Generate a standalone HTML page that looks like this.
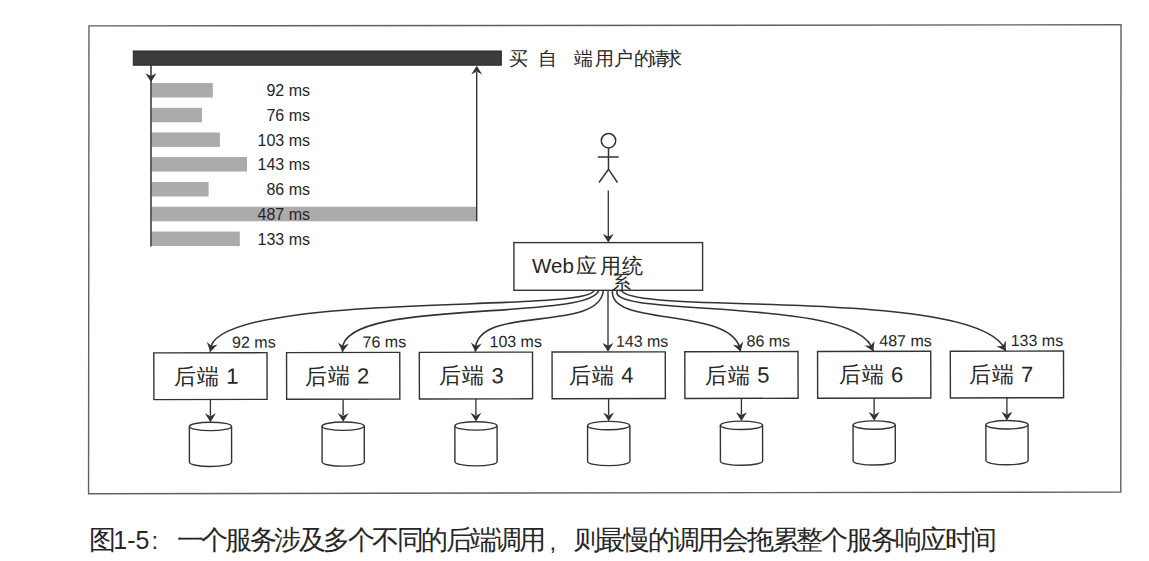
<!DOCTYPE html>
<html><head><meta charset="utf-8"><style>
html,body{margin:0;padding:0;background:#fff;overflow:hidden;}
svg{display:block;}
text{font-family:"Liberation Sans", sans-serif;fill:#262626;}
</style></head><body>
<svg width="1149" height="561" viewBox="0 0 1149 561">
<path d="M88.97 25.9 L1121 24.8 L1120.8 492 L88.55 493.8 Z" fill="none" stroke="#606060" stroke-width="1.4"/>
<rect x="133.3" y="51" width="368" height="14.2" fill="#3d3d3d" stroke="#262626" stroke-width="1"/>
<rect x="151.5" y="83" width="61.3" height="14.5" fill="#ababab"/>
<rect x="151.5" y="107.8" width="50.5" height="14.5" fill="#ababab"/>
<rect x="151.5" y="132.5" width="68.4" height="14.5" fill="#ababab"/>
<rect x="151.5" y="157" width="95.5" height="14.5" fill="#ababab"/>
<rect x="151.5" y="182" width="57.1" height="14.5" fill="#ababab"/>
<rect x="151.5" y="206.8" width="325.0" height="14.5" fill="#ababab"/>
<rect x="151.5" y="231.6" width="88.3" height="14.5" fill="#ababab"/>
<line x1="151" y1="65" x2="151" y2="246.5" stroke="#333333" stroke-width="1.5"/>
<path d="M0 0 L-8.80 -5.50 L-5.90 0 L-8.80 5.50 Z" transform="translate(151.00 82.00) rotate(90.00)" fill="#333333"/>
<line x1="476.7" y1="221.3" x2="476.7" y2="72" stroke="#333333" stroke-width="1.4"/>
<path d="M0 0 L-8.80 -5.50 L-5.90 0 L-8.80 5.50 Z" transform="translate(476.70 65.70) rotate(-90.00)" fill="#333333"/>
<circle cx="608.5" cy="140.7" r="7.2" fill="none" stroke="#333333" stroke-width="1.5"/>
<path d="M608.5 147.9 V169.2 M597.8 157 H618.6 M599 182.5 L608.5 169.2 L617.4 182.5" fill="none" stroke="#333333" stroke-width="1.5"/>
<line x1="608.3" y1="190.6" x2="608.3" y2="238" stroke="#333333" stroke-width="1.3"/>
<path d="M0 0 L-8.80 -5.50 L-5.90 0 L-8.80 5.50 Z" transform="translate(608.30 242.60) rotate(90.00)" fill="#333333"/>
<rect x="513.9" y="242.6" width="188.7" height="47.7" fill="none" stroke="#333333" stroke-width="1.4"/>
<path d="M594.00 290.30 C590.48 313.56 205.33 290.45 210.30 351.80" fill="none" stroke="#333333" stroke-width="1.55"/>
<path d="M0 0 L-8.80 -5.50 L-5.90 0 L-8.80 5.50 Z" transform="translate(210.30 351.80) rotate(102.37)" fill="#333333"/>
<path d="M598.90 290.30 C588.71 322.42 334.18 296.65 342.60 351.80" fill="none" stroke="#333333" stroke-width="1.55"/>
<path d="M0 0 L-8.80 -5.50 L-5.90 0 L-8.80 5.50 Z" transform="translate(342.60 351.80) rotate(95.44)" fill="#333333"/>
<path d="M603.40 290.30 C599.18 334.57 472.43 302.62 475.40 351.80" fill="none" stroke="#333333" stroke-width="1.55"/>
<path d="M0 0 L-8.80 -5.50 L-5.90 0 L-8.80 5.50 Z" transform="translate(475.40 351.80) rotate(95.79)" fill="#333333"/>
<path d="M612.50 290.30 C607.64 328.32 735.41 305.25 740.60 351.50" fill="none" stroke="#333333" stroke-width="1.55"/>
<path d="M0 0 L-8.80 -5.50 L-5.90 0 L-8.80 5.50 Z" transform="translate(740.60 351.50) rotate(73.27)" fill="#333333"/>
<path d="M617.40 290.30 C603.55 318.58 860.57 295.14 873.30 351.20" fill="none" stroke="#333333" stroke-width="1.55"/>
<path d="M0 0 L-8.80 -5.50 L-5.90 0 L-8.80 5.50 Z" transform="translate(873.30 351.20) rotate(64.54)" fill="#333333"/>
<path d="M621.50 290.30 C629.20 315.75 983.05 286.24 1005.70 351.00" fill="none" stroke="#333333" stroke-width="1.55"/>
<path d="M0 0 L-8.80 -5.50 L-5.90 0 L-8.80 5.50 Z" transform="translate(1005.70 351.00) rotate(58.78)" fill="#333333"/>
<line x1="608" y1="290" x2="608" y2="346" stroke="#333333" stroke-width="1.35"/>
<path d="M0 0 L-8.80 -5.50 L-5.90 0 L-8.80 5.50 Z" transform="translate(608.00 351.70) rotate(90.00)" fill="#333333"/>
<g transform="rotate(-0.12 608 400)">
<rect x="153.90" y="351.95" width="113.2" height="46.70" fill="none" stroke="#333333" stroke-width="1.4"/>
<line x1="210.4" y1="398.65" x2="210.4" y2="415" stroke="#333333" stroke-width="1.35"/>
<path d="M0 0 L-8.80 -5.50 L-5.90 0 L-8.80 5.50 Z" transform="translate(210.40 421.30) rotate(90.00)" fill="#333333"/>
<path d="M189.3 425.6 V461.4 A21.1 4.2 0 0 0 231.5 461.4 V425.6" fill="none" stroke="#333333" stroke-width="1.4"/>
<ellipse cx="210.4" cy="425.6" rx="21.1" ry="4.2" fill="none" stroke="#333333" stroke-width="1.4"/>
<rect x="286.65" y="351.95" width="113.2" height="46.70" fill="none" stroke="#333333" stroke-width="1.4"/>
<line x1="343.1" y1="398.65" x2="343.1" y2="415" stroke="#333333" stroke-width="1.35"/>
<path d="M0 0 L-8.80 -5.50 L-5.90 0 L-8.80 5.50 Z" transform="translate(343.15 421.30) rotate(90.00)" fill="#333333"/>
<path d="M322.0 425.6 V461.4 A21.1 4.2 0 0 0 364.2 461.4 V425.6" fill="none" stroke="#333333" stroke-width="1.4"/>
<ellipse cx="343.1" cy="425.6" rx="21.1" ry="4.2" fill="none" stroke="#333333" stroke-width="1.4"/>
<rect x="419.40" y="351.95" width="113.2" height="46.70" fill="none" stroke="#333333" stroke-width="1.4"/>
<line x1="475.9" y1="398.65" x2="475.9" y2="415" stroke="#333333" stroke-width="1.35"/>
<path d="M0 0 L-8.80 -5.50 L-5.90 0 L-8.80 5.50 Z" transform="translate(475.90 421.30) rotate(90.00)" fill="#333333"/>
<path d="M454.8 425.6 V461.4 A21.1 4.2 0 0 0 497.0 461.4 V425.6" fill="none" stroke="#333333" stroke-width="1.4"/>
<ellipse cx="475.9" cy="425.6" rx="21.1" ry="4.2" fill="none" stroke="#333333" stroke-width="1.4"/>
<rect x="552.15" y="351.95" width="113.2" height="46.70" fill="none" stroke="#333333" stroke-width="1.4"/>
<line x1="608.6" y1="398.65" x2="608.6" y2="415" stroke="#333333" stroke-width="1.35"/>
<path d="M0 0 L-8.80 -5.50 L-5.90 0 L-8.80 5.50 Z" transform="translate(608.65 421.30) rotate(90.00)" fill="#333333"/>
<path d="M587.5 425.6 V461.4 A21.1 4.2 0 0 0 629.8 461.4 V425.6" fill="none" stroke="#333333" stroke-width="1.4"/>
<ellipse cx="608.6" cy="425.6" rx="21.1" ry="4.2" fill="none" stroke="#333333" stroke-width="1.4"/>
<rect x="684.90" y="351.95" width="113.2" height="46.70" fill="none" stroke="#333333" stroke-width="1.4"/>
<line x1="741.4" y1="398.65" x2="741.4" y2="415" stroke="#333333" stroke-width="1.35"/>
<path d="M0 0 L-8.80 -5.50 L-5.90 0 L-8.80 5.50 Z" transform="translate(741.40 421.30) rotate(90.00)" fill="#333333"/>
<path d="M720.3 425.6 V461.4 A21.1 4.2 0 0 0 762.5 461.4 V425.6" fill="none" stroke="#333333" stroke-width="1.4"/>
<ellipse cx="741.4" cy="425.6" rx="21.1" ry="4.2" fill="none" stroke="#333333" stroke-width="1.4"/>
<rect x="817.65" y="351.95" width="113.2" height="46.70" fill="none" stroke="#333333" stroke-width="1.4"/>
<line x1="874.1" y1="398.65" x2="874.1" y2="415" stroke="#333333" stroke-width="1.35"/>
<path d="M0 0 L-8.80 -5.50 L-5.90 0 L-8.80 5.50 Z" transform="translate(874.15 421.30) rotate(90.00)" fill="#333333"/>
<path d="M853.0 425.6 V461.4 A21.1 4.2 0 0 0 895.2 461.4 V425.6" fill="none" stroke="#333333" stroke-width="1.4"/>
<ellipse cx="874.1" cy="425.6" rx="21.1" ry="4.2" fill="none" stroke="#333333" stroke-width="1.4"/>
<rect x="950.40" y="351.95" width="113.2" height="46.70" fill="none" stroke="#333333" stroke-width="1.4"/>
<line x1="1006.9" y1="398.65" x2="1006.9" y2="415" stroke="#333333" stroke-width="1.35"/>
<path d="M0 0 L-8.80 -5.50 L-5.90 0 L-8.80 5.50 Z" transform="translate(1006.90 421.30) rotate(90.00)" fill="#333333"/>
<path d="M985.8 425.6 V461.4 A21.1 4.2 0 0 0 1028.0 461.4 V425.6" fill="none" stroke="#333333" stroke-width="1.4"/>
<ellipse cx="1006.9" cy="425.6" rx="21.1" ry="4.2" fill="none" stroke="#333333" stroke-width="1.4"/>
<text x="232.2" y="346.9" font-size="16">92 ms</text>
<text x="362.7" y="346.9" font-size="16">76 ms</text>
<text x="489.6" y="346.9" font-size="16">103 ms</text>
<text x="616.0" y="346.9" font-size="16">143 ms</text>
<text x="746.6" y="346.9" font-size="16">86 ms</text>
<text x="879.4" y="346.9" font-size="16">487 ms</text>
<text x="1010.8" y="346.9" font-size="16">133 ms</text>
<text x="174.3" y="382.9" font-size="22"><tspan letter-spacing="1">后端</tspan> 1</text>
<text x="305.0" y="382.9" font-size="22"><tspan letter-spacing="1">后端</tspan> 2</text>
<text x="439.4" y="382.9" font-size="22"><tspan letter-spacing="1">后端</tspan> 3</text>
<text x="569.3" y="382.9" font-size="22"><tspan letter-spacing="1">后端</tspan> 4</text>
<text x="705.1" y="382.9" font-size="22"><tspan letter-spacing="1">后端</tspan> 5</text>
<text x="838.9" y="382.9" font-size="22"><tspan letter-spacing="1">后端</tspan> 6</text>
<text x="969.0" y="382.9" font-size="22"><tspan letter-spacing="1">后端</tspan> 7</text>
</g>
<text x="310" y="96" font-size="16" text-anchor="end" >92 ms</text>
<text x="310" y="120.8" font-size="16" text-anchor="end" >76 ms</text>
<text x="310" y="145.5" font-size="16" text-anchor="end" >103 ms</text>
<text x="310" y="170" font-size="16" text-anchor="end" >143 ms</text>
<text x="310" y="195" font-size="16" text-anchor="end" >86 ms</text>
<text x="310" y="219.8" font-size="16" text-anchor="end" >487 ms</text>
<text x="310" y="244.6" font-size="16" text-anchor="end" >133 ms</text>
<text x="532" y="273.2" font-size="20.5" text-anchor="start" >Web</text>
<text x="576" y="273.2" font-size="21" text-anchor="start" >应</text>
<text x="600" y="273.2" font-size="21" text-anchor="start" >用</text>
<text x="622" y="273.2" font-size="21" text-anchor="start" >统</text>
<text x="612" y="289" font-size="19" text-anchor="start" >系</text>
<text x="509" y="64.8" font-size="18.5" text-anchor="start" >买</text>
<text x="538" y="64.8" font-size="18.5" text-anchor="start" >自</text>
<text x="574" y="64.8" font-size="18.5" text-anchor="start" >端</text>
<text x="595" y="64.8" font-size="18.5" text-anchor="start" >用</text>
<text x="614" y="64.8" font-size="18.5" text-anchor="start" >户</text>
<text x="634" y="64.8" font-size="18.5" text-anchor="start" >的</text>
<text x="650" y="64.8" font-size="18.5" text-anchor="start" >请</text>
<text x="663" y="64.8" font-size="18.5" text-anchor="start" >求</text>
<text x="89.2" y="549.3" font-size="26.5">图</text>
<text x="113.3" y="549.3" font-size="26" textLength="36" lengthAdjust="spacingAndGlyphs">1-5</text>
<text x="151.5" y="549.3" font-size="24">:</text>
<text x="176.5" y="549.3" font-size="26.5" textLength="369.5" lengthAdjust="spacing">一个服务涉及多个不同的后端调用</text>
<text x="549.5" y="550.3" font-size="24">,</text>
<text x="573.5" y="549.3" font-size="26.5" textLength="423" lengthAdjust="spacing">则最慢的调用会拖累整个服务响应时间</text>
</svg>
</body></html>
